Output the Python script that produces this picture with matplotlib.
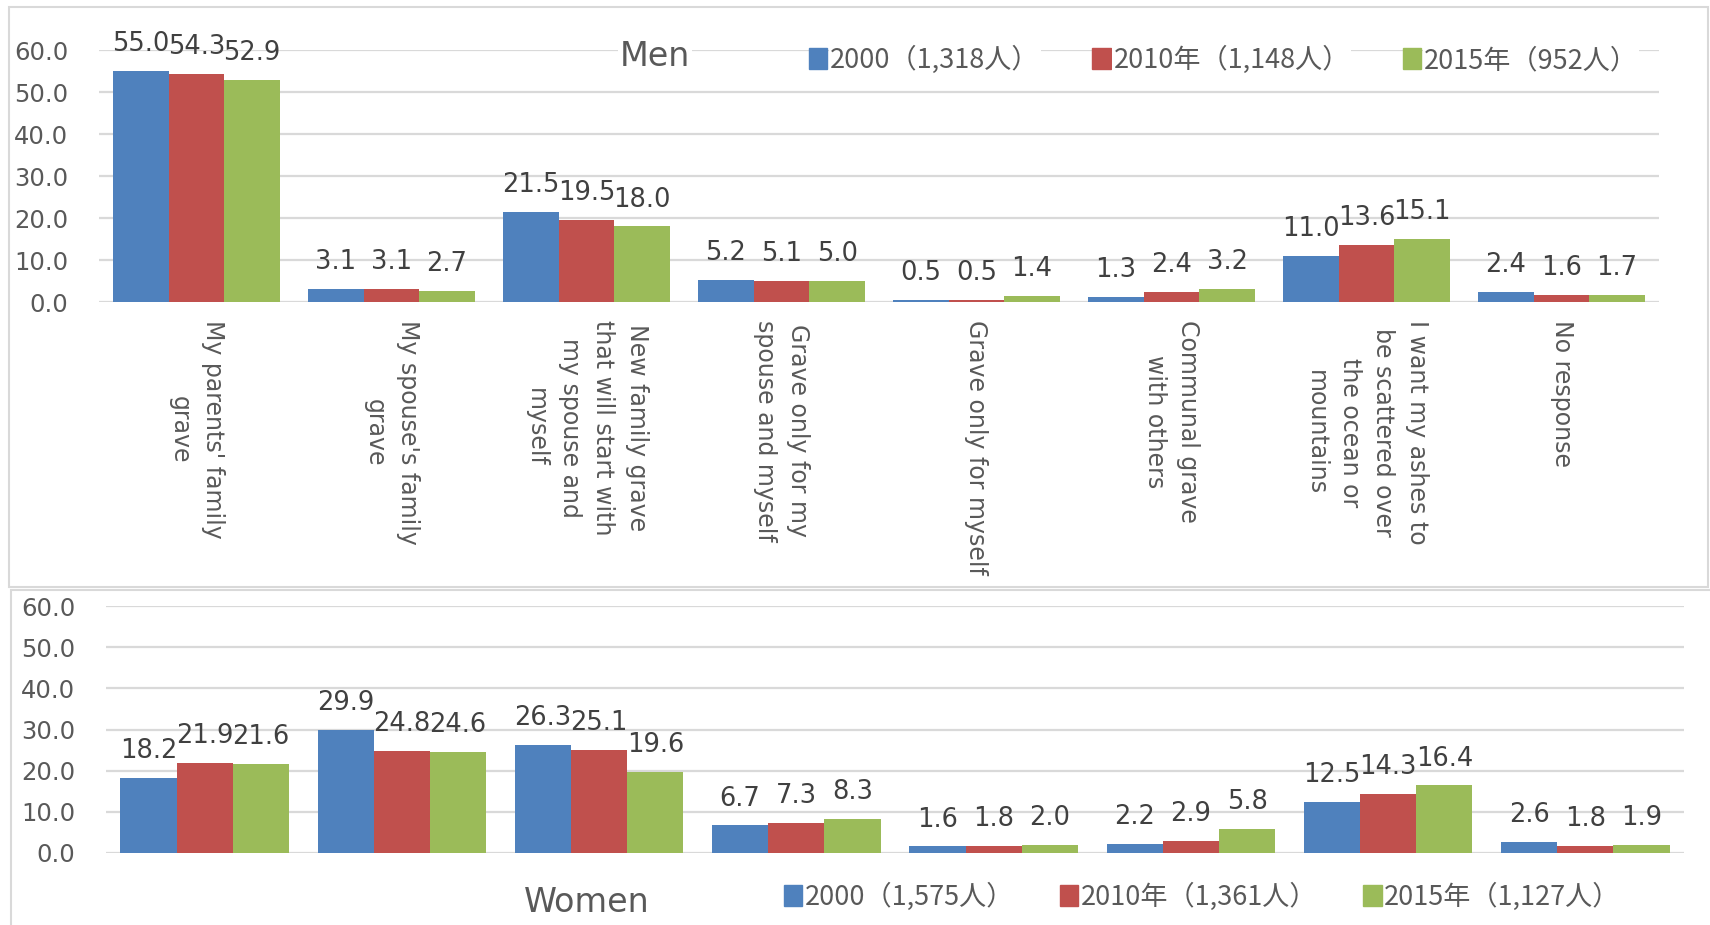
import matplotlib
matplotlib.use("Agg")
import matplotlib.pyplot as plt
from matplotlib.patches import Rectangle, Patch
from matplotlib.font_manager import FontProperties
import numpy as np

# survey answers, one list per year
categories = ["My parents' family\ngrave",
              "My spouse's family\ngrave",
              "New family grave\nthat will start with\nmy spouse and\nmyself",
              "Grave only for my\nspouse and myself",
              "Grave only for myself",
              "Communal grave\nwith others",
              "I want my ashes to\nbe scattered over\nthe ocean or\nmountains",
              "No response"]
men_2000 = [55.0, 3.1, 21.5, 5.2, 0.5, 1.3, 11.0, 2.4]
men_2010 = [54.3, 3.1, 19.5, 5.1, 0.5, 2.4, 13.6, 1.6]
men_2015 = [52.9, 2.7, 18.0, 5.0, 1.4, 3.2, 15.1, 1.7]
women_2000 = [18.2, 29.9, 26.3, 6.7, 1.6, 2.2, 12.5, 2.6]
women_2010 = [21.9, 24.8, 25.1, 7.3, 1.8, 2.9, 14.3, 1.8]
women_2015 = [21.6, 24.6, 19.6, 8.3, 2.0, 5.8, 16.4, 1.9]
men_legend = ['2000（1,318人）', '2010年（1,148人）', '2015年（952人）']
women_legend = ['2000（1,575人）', '2010年（1,361人）', '2015年（1,127人）']
yticks = [0, 10, 20, 30, 40, 50, 60]

colors = ['#4F81BD', '#C0504D', '#9BBB59']
grid_c = '#D9D9D9'
txt_c = '#595959'
W, H = 1710, 925

fig = plt.figure(figsize=(W / 100, H / 100), dpi=100)


def px_axes(left, right, top, bottom):
    return fig.add_axes([left / W, 1 - bottom / H, (right - left) / W, (bottom - top) / H])


def draw_bars(ax, series):
    x = np.arange(len(categories))
    bw = 0.285
    for i, vals in enumerate(series):
        bars = ax.bar(x + (i - 1) * bw, vals, bw, color=colors[i], linewidth=0, zorder=3)
        ax.bar_label(bars, fmt='%.1f', padding=10, fontsize=18.5, color='#404040')
    ax.set_xlim(-0.5, len(categories) - 0.5)
    ax.set_ylim(0, 60)
    ax.set_yticks(yticks, [f'{v:.1f}' for v in yticks])
    ax.tick_params(axis='y', length=0, pad=22, labelsize=17.5, labelcolor=txt_c)
    ax.tick_params(axis='x', length=0)
    ax.grid(axis='y', color=grid_c, linewidth=1.6, zorder=0)
    ax.set_axisbelow(True)
    for s in ax.spines.values():
        s.set_visible(False)
    return x


# chart frames
fig.patches.append(Rectangle((9 / W, 1 - 587 / H), 1699 / W, 580 / H, transform=fig.transFigure,
                             fill=False, edgecolor=grid_c, linewidth=1.5))
fig.patches.append(Rectangle((11 / W, 1 - 940 / H), 1720 / W, 350 / H, transform=fig.transFigure,
                             fill=False, edgecolor=grid_c, linewidth=1.5))

cjk = FontProperties(family=['Noto Sans CJK JP', 'DejaVu Sans'], size=19.5)

# Men
ax1 = px_axes(99, 1659, 50, 302)
x = draw_bars(ax1, [men_2000, men_2010, men_2015])
ax1.set_xticks(x, categories, rotation=-90, fontsize=17, color=txt_c,
               linespacing=1.5, multialignment='center')
ax1.tick_params(axis='x', pad=13)
handles = [Patch(color=c) for c in colors]
leg1 = ax1.legend(handles, men_legend, ncol=3, loc='center left',
                  bbox_to_anchor=(809 / W, 1 - 60 / H), bbox_transform=fig.transFigure,
                  frameon=False, prop=cjk, labelcolor=txt_c, handlelength=0.68,
                  handleheight=0.8, handletextpad=0.1, columnspacing=1.95,
                  borderpad=0, borderaxespad=0)
for t in leg1.get_texts():
    t.set_bbox(dict(facecolor='white', edgecolor='none', pad=1))
fig.text(655 / W, 1 - 66 / H, 'Men', ha='center', va='baseline', fontsize=24, color=txt_c,
         bbox=dict(facecolor='white', edgecolor='none', pad=1))

# Women
ax2 = px_axes(106, 1684, 606, 853)
draw_bars(ax2, [women_2000, women_2010, women_2015])
ax2.tick_params(axis='x', labelbottom=False)
ax2.legend(handles, women_legend, ncol=3, loc='center left',
           bbox_to_anchor=(784 / W, 1 - 897 / H), bbox_transform=fig.transFigure,
           frameon=False, prop=cjk, labelcolor=txt_c, handlelength=0.68,
           handleheight=0.8, handletextpad=0.1, columnspacing=1.68,
           borderpad=0, borderaxespad=0)
fig.text(587 / W, 1 - 912 / H, 'Women', ha='center', va='baseline', fontsize=24, color=txt_c)

fig.savefig('out.png', dpi=100, facecolor='white')
